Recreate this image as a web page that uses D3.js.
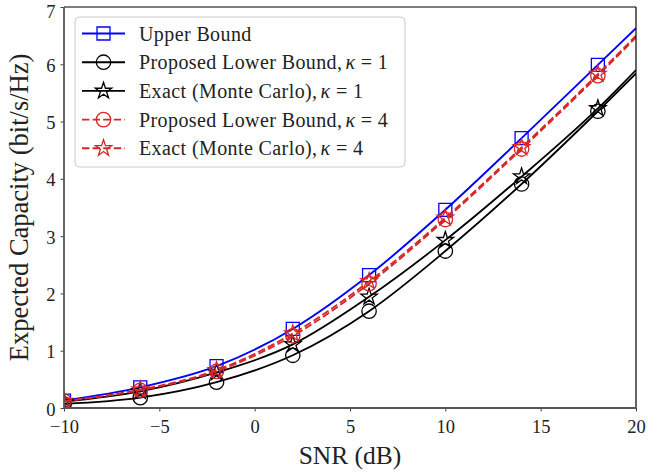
<!DOCTYPE html>
<html><head><meta charset="utf-8">
<script src="https://cdn.jsdelivr.net/npm/d3@7/dist/d3.min.js"></script>
<style>body{margin:0;background:#fff}svg{display:block}text{font-family:"Liberation Serif","Times New Roman",serif;fill:#222}</style>
</head><body><svg id="c" width="667" height="472"></svg>
<script>
// ---- data ----
const snr = [-10, -6, -2, 2, 6, 10, 14, 18, 20];
const markerSnr = [-10, -6, -2, 2, 6, 10, 14, 18];
const upperBound = [0.13, 0.36, 0.73, 1.38, 2.32, 3.46, 4.71, 5.99, 6.63];
const lowerK1    = [0.07, 0.18, 0.45, 0.92, 1.69, 2.74, 3.91, 5.18, 5.84];
const exactK1    = [0.11, 0.29, 0.62, 1.11, 1.94, 2.93, 4.04, 5.23, 5.90];
const lowerK4    = [0.12, 0.31, 0.64, 1.26, 2.17, 3.29, 4.52, 5.80, 6.47];
const exactK4    = [0.12, 0.32, 0.66, 1.30, 2.21, 3.32, 4.55, 5.83, 6.50];
const xTicks = [-10, -5, 0, 5, 10, 15, 20];
const yTicks = [0, 1, 2, 3, 4, 5, 6, 7];
const seriesNames = ["Upper Bound", "Proposed Lower Bound", "Exact (Monte Carlo)", "Proposed Lower Bound", "Exact (Monte Carlo)"];
const seriesKappa = [null, 1, 1, 4, 4];

const series = [
  {vals: upperBound, color: "#0000ff", dash: null, marker: "square"},
  {vals: lowerK1, color: "#000000", dash: null, marker: "circle"},
  {vals: exactK1, color: "#000000", dash: null, marker: "star"},
  {vals: lowerK4, color: "#d62728", dash: "7.4,3.2", marker: "circle"},
  {vals: exactK4, color: "#d62728", dash: "7.4,3.2", marker: "star"}
];

const svg = d3.select("#c");
const L = 64, R = 636, T = 7, B = 408;
const x = d3.scaleLinear().domain([-10, 20]).range([L, R]);
const y = d3.scaleLinear().domain([0, 7]).range([B, T]);

svg.append("defs").append("clipPath").attr("id", "clip")
  .append("rect").attr("x", L).attr("y", T).attr("width", R - L).attr("height", B - T);

function markerPath(type) {
  if (type === "square") return d3.symbol(d3.symbolSquare, 169)();
  if (type === "circle") return d3.symbol(d3.symbolCircle, Math.PI * 7.2 * 7.2)();
  return d3.symbol(d3.symbolStar, 8.6 * 8.6 / 0.8908)();
}

const g = svg.append("g").attr("clip-path", "url(#clip)");
const line = d3.line().x(d => x(d[0])).y(d => y(d[1])).curve(d3.curveMonotoneX);

series.forEach(s => {
  const pts = snr.map((v, i) => [v, s.vals[i]]);
  g.append("path").attr("d", line(pts)).attr("fill", "none")
    .attr("stroke", s.color).attr("stroke-width", s.color === "#0000ff" ? 1.9 : 1.8)
    .attr("stroke-dasharray", s.dash);
  const mk = pts.filter(p => markerSnr.includes(p[0]));
  g.selectAll(null).data(mk).enter().append("path")
    .attr("d", markerPath(s.marker))
    .attr("transform", d => `translate(${x(d[0])},${y(d[1])})`)
    .attr("fill", "none").attr("stroke", s.color).attr("stroke-width", 1.3);
});

// axes
const xAxis = d3.axisBottom(x).tickValues(xTicks).tickSize(3.5).tickPadding(4.5)
  .tickFormat(d => d < 0 ? "\u2212" + Math.abs(d) : String(d));
const gx = svg.append("g").attr("transform", `translate(0,${B})`).call(xAxis);
const yAxis = d3.axisLeft(y).tickValues(yTicks).tickSize(3.5).tickPadding(5).tickFormat(d3.format("d"));
const gy = svg.append("g").attr("transform", `translate(${L},0)`).call(yAxis);
[gx, gy].forEach(a => {
  a.select(".domain").remove();
  a.selectAll(".tick line").attr("stroke", "#444").attr("stroke-width", 1);
  a.selectAll(".tick text").style("font-size", "18.5px").attr("fill", "#222")
    .style("font-family", '"Liberation Serif",serif');
});
gx.selectAll(".tick text").attr("dy", "0.9em");
gy.selectAll(".tick text").attr("dy", d => d === 7 ? "0.55em" : "0.38em");

// spines
svg.append("line").attr("x1", L).attr("x2", R).attr("y1", T).attr("y2", T).attr("stroke", "#000").attr("stroke-width", 1.2);
svg.append("line").attr("x1", R).attr("x2", R).attr("y1", T).attr("y2", B).attr("stroke", "#000").attr("stroke-width", 1.2);
svg.append("line").attr("x1", L).attr("x2", L).attr("y1", T).attr("y2", B).attr("stroke", "#555").attr("stroke-width", 1.8);
svg.append("line").attr("x1", L).attr("x2", R).attr("y1", B).attr("y2", B).attr("stroke", "#555").attr("stroke-width", 1.8);

// axis labels
svg.append("text").attr("x", (L + R) / 2).attr("y", 464).attr("text-anchor", "middle")
  .style("font-size", "25.5px").text("SNR (dB)");
svg.append("text").attr("transform", `translate(28,${(T + B) / 2}) rotate(-90)`)
  .attr("text-anchor", "middle").style("font-size", "26.5px").text("Expected Capacity (bit/s/Hz)");

// legend
const lg = svg.append("g");
lg.append("rect").attr("x", 75).attr("y", 17).attr("width", 330).attr("height", 150).attr("rx", 4)
  .attr("fill", "#fff").attr("fill-opacity", 0.85).attr("stroke", "#ccc").attr("stroke-width", 1);
series.forEach((s, i) => {
  const yy = 33.5 + i * 28.7;
  lg.append("line").attr("x1", 82).attr("x2", 125).attr("y1", yy).attr("y2", yy)
    .attr("stroke", s.color).attr("stroke-width", 1.9).attr("stroke-dasharray", s.dash);
  lg.append("path").attr("d", markerPath(s.marker)).attr("transform", `translate(103.5,${yy})`)
    .attr("fill", "none").attr("stroke", s.color).attr("stroke-width", 1.3);
  const t = lg.append("text").attr("x", 139).attr("y", yy).attr("dy", "0.35em")
    .style("font-size", "20px").style("letter-spacing", "0.4px");
  t.append("tspan").text(seriesNames[i] + (seriesKappa[i] !== null ? "," : ""));
  if (seriesKappa[i] !== null) {
    t.append("tspan").attr("dx", 3).style("font-style", "italic").text("\u03BA");
    t.append("tspan").text(" = " + seriesKappa[i]);
  }
});
</script></body></html>
